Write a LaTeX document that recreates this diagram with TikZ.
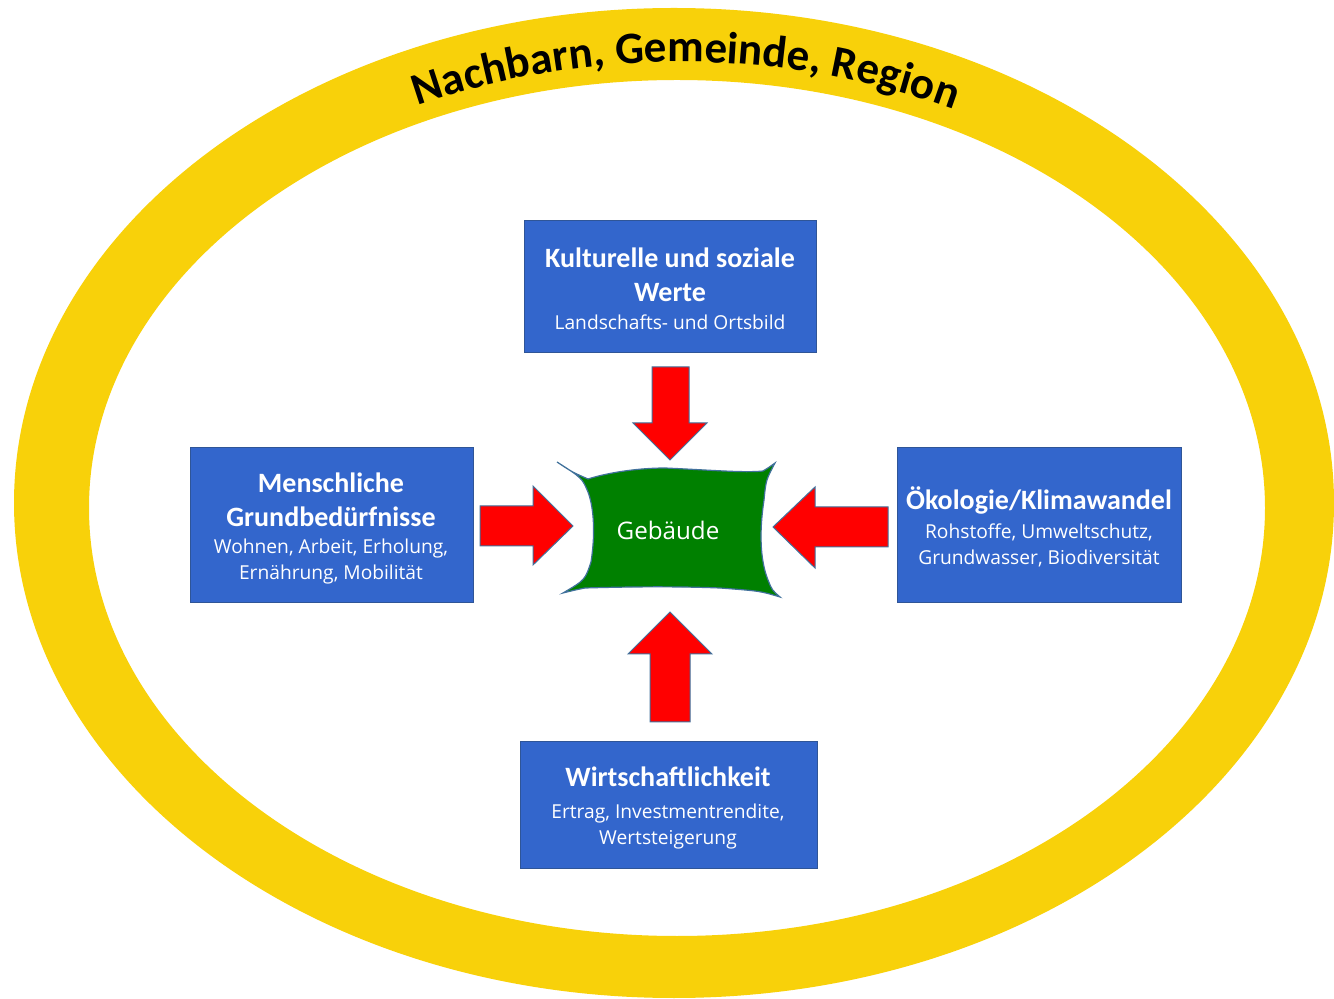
\documentclass[tikz,border=0pt]{standalone}
\usepackage{fontspec}
\setmainfont{Open Sans}
\newfontfamily\carlito{Carlito}
\usetikzlibrary{decorations.text}
\definecolor{ringgelb}{HTML}{F8D10A}
\definecolor{kastenblau}{HTML}{3366CC}
\definecolor{kastenrand}{HTML}{2F5597}
\definecolor{pfeilrot}{HTML}{FF0000}
\definecolor{pfeilrand}{HTML}{41719C}
\definecolor{hausgruen}{HTML}{008000}
\tikzset{
  kasten/.style={draw=kastenrand, fill=kastenblau, line width=0.5pt, inner sep=0pt},
  titel/.style={text=white, font=\carlito\bfseries\fontsize{14}{17}\selectfont, align=center, inner sep=0pt},
  unter/.style={text=white, font=\fontsize{9.6}{13}\selectfont, align=center, inner sep=0pt},
  pfeil/.style={fill=pfeilrot, draw=pfeilrand, line width=0.5pt, line join=miter},
}
\begin{document}
\begin{tikzpicture}[x=0.5pt, y=-0.5pt]
        \useasboundingbox (0,0) rectangle (1334,999);
        % Ring
        \fill[ringgelb, even odd rule] (674,503) ellipse[x radius=660, y radius=495]
            (677,508) ellipse[x radius=588, y radius=428];
        \path[decorate, decoration={text along path, text align=center,
            text={|\carlito\bfseries\fontsize{22.5}{26}\selectfont|Nachbarn, Gemeinde, Region}}]
            ([shift={(-149.3:606 and 443)}]680,505) arc[start angle=-149.3, end angle=-29.3, x radius=606, y radius=443];
        % Boxes
        \node[kasten, minimum width=146pt, minimum height=66pt] (kultur) at (670,287) {};
        \node[kasten, minimum width=141.5pt, minimum height=77.5pt] (mensch) at (331.5,525.5) {};
        \node[kasten, minimum width=142pt, minimum height=77.5pt] (oeko) at (1039,525.5) {};
        \node[kasten, minimum width=148.5pt, minimum height=63pt] (wirt) at (668.5,805) {};
        % Labels in boxes
        \node[titel] (kulturT) at (670,275) {Kulturelle und soziale\\Werte};
        \node[unter] (kulturU) at (670,322) {Landschafts- und Ortsbild};
        \node[titel] (menschT) at (331,500) {Menschliche\\Grundbedürfnisse};
        \node[unter] (menschU) at (331,562) {Wohnen, Arbeit, Erholung,\\Ernährung, Mobilität};
        \node[titel] (oekoT) at (1039,500) {Ökologie/Klimawandel};
        \node[unter] (oekoU) at (1039,545) {Rohstoffe, Umweltschutz,\\Grundwasser, Biodiversität};
        \node[titel] (wirtT) at (668,777) {Wirtschaftlichkeit};
        \node[unter] (wirtU) at (668,827) {Ertrag, Investmentrendite,\\Wertsteigerung};
        % Building
        \draw[fill=hausgruen, draw=pfeilrand, line width=0.6pt]
            (557,462) .. controls (572,472) .. (588,479)
            .. controls (610,472) and (640,468) .. (665,468)
            .. controls (710,470) and (745,473) .. (763,471)
            .. controls (768,468) .. (775,463)
            .. controls (766,480) .. (764,500)
            .. controls (758,540) and (762,565) .. (768,580)
            .. controls (772,590) .. (780,597)
            .. controls (760,591) .. (720,588)
            .. controls (670,586) and (620,587) .. (585,588)
            .. controls (575,590) .. (563,593)
            .. controls (585,580) .. (591,562)
            .. controls (596,530) and (593,505) .. (588,492)
            .. controls (582,478) .. cycle;
        \node[text=white, font=\fontsize{12.1}{14}\selectfont] (gebaeude) at (668,530) {Gebäude};
        % Arrows
        \draw[pfeil] (652,367) -- (689,367) -- (689,423) -- (707,423) -- (670,460) -- (633,423) -- (652,423) -- cycle;
        \draw[pfeil] (480,506) -- (533,506) -- (533,486) -- (573,526) -- (533,565) -- (533,546) -- (480,546) -- cycle;
        \draw[pfeil] (888,507) -- (815,507) -- (815,487) -- (773,527) -- (815,568) -- (815,547) -- (888,547) -- cycle;
        \draw[pfeil] (650,722) -- (650,654) -- (628,654) -- (670,612) -- (712,654) -- (690,654) -- (690,722) -- cycle;
\end{tikzpicture}
\end{document}
